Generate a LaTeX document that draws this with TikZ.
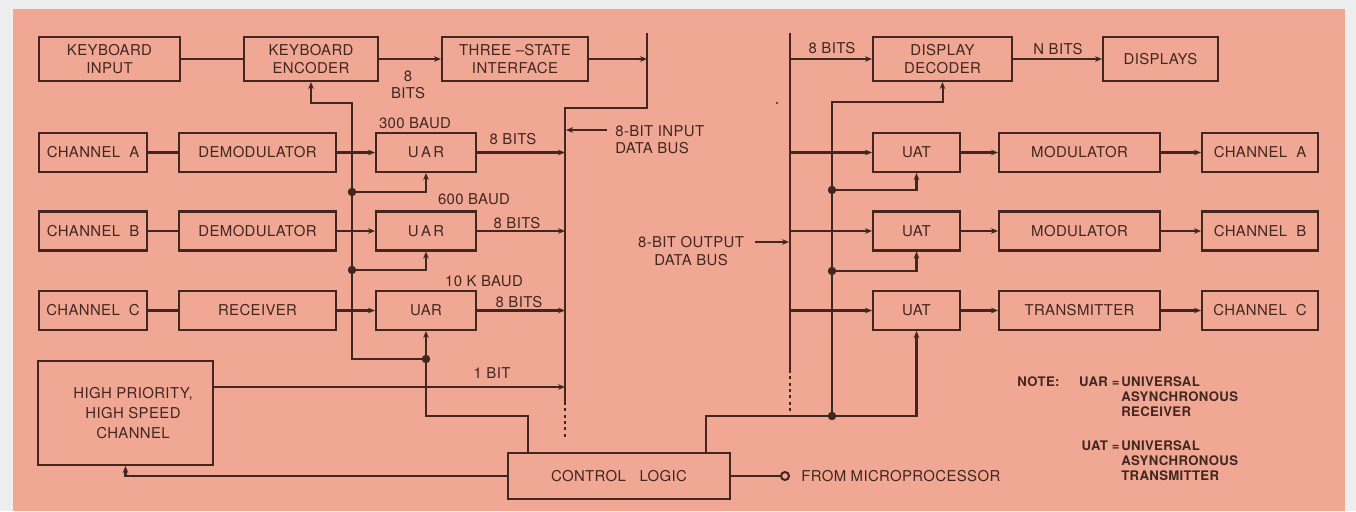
\documentclass[tikz,border=0pt]{standalone}
\usepackage{fontspec}
\setmainfont{TeX Gyre Heros}[LetterSpace=2.5]
\usetikzlibrary{arrows.meta}
\definecolor{panel}{RGB}{240,168,148}
\definecolor{paper}{RGB}{238,238,238}
\definecolor{ink}{RGB}{66,38,32}
\tikzset{
  blk/.style={draw=ink, line width=1.15pt, text=ink, font=\fontsize{8.5}{9.8}\selectfont, align=center, inner sep=0pt, minimum height=0.78cm},
  lbl/.style={text=ink, font=\fontsize{8.5}{9.8}\selectfont, align=center, inner sep=0pt},
  note/.style={text=ink, font=\fontsize{7.5}{8.5}\selectfont\bfseries, align=left, inner sep=0pt},
  wire/.style={draw=ink, line width=1.15pt},
  arr/.style={wire, -{Stealth[length=4pt,width=3.2pt]}},
  jdot/.style={circle, fill=ink, inner sep=0pt, minimum size=0.17cm},
  busend/.style={wire, dash pattern=on 1.8pt off 1.8pt},
}
\begin{document}
\begin{tikzpicture}[x=0.02cm, y=-0.02cm]
  % background
  \fill[paper] (0,0) rectangle (1356,511);
  \fill[panel] (13,9) rectangle (1345,511);
  \fill[ink] (777,103) circle (0.6pt);
  % top row
  \node[blk, minimum width=2.82cm, minimum height=0.88cm] (kbin) at (109.5,59) {KEYBOARD\\INPUT};
  \node[blk, minimum width=2.68cm, minimum height=0.88cm] (kbenc) at (311,59) {KEYBOARD\\ENCODER};
  \node[blk, minimum width=2.92cm, minimum height=0.88cm] (tri) at (515,59) {THREE --STATE\\INTERFACE};
  \node[blk, minimum width=2.78cm, minimum height=0.88cm] (disdec) at (942.5,59) {DISPLAY\\DECODER};
  \node[blk, minimum width=2.30cm, minimum height=0.88cm] (disp) at (1160.5,59) {DISPLAYS};
  % receive side
  \node[blk, minimum width=2.16cm] (chA) at (93,152.5) {CHANNEL~~A};
  \node[blk, minimum width=3.14cm] (demA) at (257.5,152.5) {DEMODULATOR};
  \node[blk, minimum width=2.0cm] (uarA) at (426,152.5) {U\,A\,R};
  \node[blk, minimum width=2.16cm] (chB) at (93,231) {CHANNEL~~B};
  \node[blk, minimum width=3.14cm] (demB) at (257.5,231) {DEMODULATOR};
  \node[blk, minimum width=2.0cm] (uarB) at (426,231) {U\,A\,R};
  \node[blk, minimum width=2.16cm] (chC) at (93,310.5) {CHANNEL~~C};
  \node[blk, minimum width=3.14cm] (rcv) at (257.5,310.5) {RECEIVER};
  \node[blk, minimum width=2.0cm] (uarC) at (426,310.5) {UAR};
  % transmit side
  \node[blk, minimum width=1.74cm] (uatA) at (916.5,152.5) {UAT};
  \node[blk, minimum width=3.22cm] (modA) at (1079.5,152.5) {MODULATOR};
  \node[blk, minimum width=2.32cm] (outA) at (1260,152.5) {CHANNEL~~A};
  \node[blk, minimum width=1.74cm] (uatB) at (916.5,231) {UAT};
  \node[blk, minimum width=3.22cm] (modB) at (1079.5,231) {MODULATOR};
  \node[blk, minimum width=2.32cm] (outB) at (1260,231) {CHANNEL~~B};
  \node[blk, minimum width=1.74cm] (uatC) at (916.5,310.5) {UAT};
  \node[blk, minimum width=3.22cm] (xmit) at (1079.5,310.5) {TRANSMITTER};
  \node[blk, minimum width=2.32cm] (outC) at (1260,310.5) {CHANNEL~~C};
  % bottom
  \node[blk, minimum width=3.5cm, minimum height=2.08cm, font=\fontsize{8.5}{11.4}\selectfont] (hpc) at (125.5,413) {\hspace*{0.3cm}HIGH PRIORITY,\\\hspace*{0.3cm}HIGH SPEED\\\hspace*{0.3cm}CHANNEL};
  \node[blk, minimum width=4.44cm, minimum height=0.92cm] (ctl) at (619,476) {CONTROL~~~LOGIC};
  \node[circle, draw=ink, line width=1.15pt, fill=panel, inner sep=0pt, minimum size=0.16cm] (upin) at (785,476) {};
  \node[lbl, anchor=west] (upl) at (801,476) {FROM MICROPROCESSOR};
  % input data bus
  \coordinate (ibtop) at (647,33);
  \coordinate (ibjog) at (647,108);
  \coordinate (ibcor) at (565,108);
  \coordinate (ibend) at (565,402);
  \coordinate (ibdash) at (565,438);
  \coordinate (ibit) at (565,387);
  \draw[wire] (ibtop) -- (ibjog) -- (ibcor) -- (ibend);
  \draw[busend] (ibend) -- (ibdash);
  \node[lbl, align=left, anchor=west] (ibl) at (615,140) {8-BIT INPUT\\DATA BUS};
  \coordinate (ibtail) at (607,130);
  \coordinate (ibin) at (566,130);
  \draw[arr] (ibtail) -- (ibin);
  % output data bus
  \coordinate (obtop) at (790,33);
  \coordinate (obend) at (790,370);
  \coordinate (obdash) at (790,413);
  \draw[wire] (obtop) -- (obend);
  \draw[busend] (obend) -- (obdash);
  \node[lbl] (obl) at (691,251) {8-BIT OUTPUT\\DATA BUS};
  \coordinate (obtail) at (755,242);
  \coordinate (obin) at (789,242);
  \draw[arr] (obtail) -- (obin);
  % data paths
  \draw[wire] (kbin) -- (kbenc);
  \draw[arr] (kbenc) -- (tri);
  \draw[arr] (tri.east) -- (tri.east -| ibtop);
  \draw[wire] (chA) -- (demA);
  \draw[wire] (chB) -- (demB);
  \draw[wire] (chC) -- (rcv);
  \draw[arr] (demA) -- (uarA);
  \draw[arr] (demB) -- (uarB);
  \draw[arr] (rcv) -- (uarC);
  \draw[arr] (uarA.east) -- (uarA.east -| ibcor);
  \draw[arr] (uarB.east) -- (uarB.east -| ibcor);
  \draw[arr] (uarC.east) -- (uarC.east -| ibcor);
  \draw[arr] (hpc.east |- ibit) -- (ibit);
  \draw[arr] (obtop |- disdec.west) -- (disdec.west);
  \draw[arr] (disdec) -- (disp);
  \draw[arr] (obtop |- uatA.west) -- (uatA.west);
  \draw[arr] (obtop |- uatB.west) -- (uatB.west);
  \draw[arr] (obtop |- uatC.west) -- (uatC.west);
  \draw[arr] (uatA) -- (modA);
  \draw[arr] (modA) -- (outA);
  \draw[arr] (uatB) -- (modB);
  \draw[arr] (modB) -- (outB);
  \draw[arr] (uatC) -- (xmit);
  \draw[arr] (xmit) -- (outC);
  % control lines, receive side
  \coordinate (lc0) at (352,103);
  \coordinate (lcA) at (352,192);
  \coordinate (lcB) at (352,270);
  \coordinate (lc1) at (352,359);
  \coordinate (lcC) at (426,359);
  \coordinate (lc2) at (426,416);
  \coordinate (lc3) at (528,416);
  \draw[arr] (lcC) -- (lc1) -- (lc0) -| (kbenc.south);
  \draw[arr] (lcA) -| (uarA.south);
  \draw[arr] (lcB) -| (uarB.south);
  \draw[arr] (lcC) -- (uarC.south);
  \draw[wire] (lcC) -- (lc2) -- (lc3) -- (lc3 |- ctl.north);
  \node[jdot] at (lcA) {};
  \node[jdot] at (lcB) {};
  \node[jdot] at (lcC) {};
  % control lines, transmit side
  \coordinate (rc0) at (706,416);
  \coordinate (rcD) at (832,416);
  \coordinate (rcB) at (832,271);
  \coordinate (rcA) at (832,190);
  \coordinate (rc1) at (832,102);
  \draw[wire] (rc0 |- ctl.north) -- (rc0) -- (rcD);
  \draw[arr] (rcD) -| (uatC.south);
  \draw[arr] (rcD) -- (rc1) -| (disdec.south);
  \draw[arr] (rcA) -| (uatA.south);
  \draw[arr] (rcB) -| (uatB.south);
  \node[jdot] at (rcA) {};
  \node[jdot] at (rcB) {};
  \node[jdot] at (rcD) {};
  % control logic links
  \draw[arr] (ctl.west) -| (hpc.south);
  \draw[wire] (ctl.east) -- (upin);
  % labels
  \node[lbl] (bitsK) at (408,85) {8\\BITS};
  \node[lbl] (baudA) at (415,123) {300 BAUD};
  \node[lbl] (bitsA) at (513,139) {8 BITS};
  \node[lbl] (baudB) at (474,199) {600 BAUD};
  \node[lbl] (bitsB) at (517,223) {8 BITS};
  \node[lbl] (baudC) at (484,281) {10 K BAUD};
  \node[lbl] (bitsC) at (519,302) {8 BITS};
  \node[lbl] (bit1) at (492,373) {1 BIT};
  \node[lbl] (bitsD) at (832,48) {8 BITS};
  \node[lbl] (bitsN) at (1058,49) {N BITS};
  % note
  \node[note, anchor=west] (noteh) at (1017,382) {NOTE:};
  \node[note, anchor=east] (uarkey) at (1120,382) {UAR =};
  \node[note, anchor=west] (uardef) at (1121,397) {UNIVERSAL\\ASYNCHRONOUS\\RECEIVER};
  \node[note, anchor=east] (uatkey) at (1120,446) {UAT =};
  \node[note, anchor=west] (uatdef) at (1121,461) {UNIVERSAL\\ASYNCHRONOUS\\TRANSMITTER};
\end{tikzpicture}
\end{document}
